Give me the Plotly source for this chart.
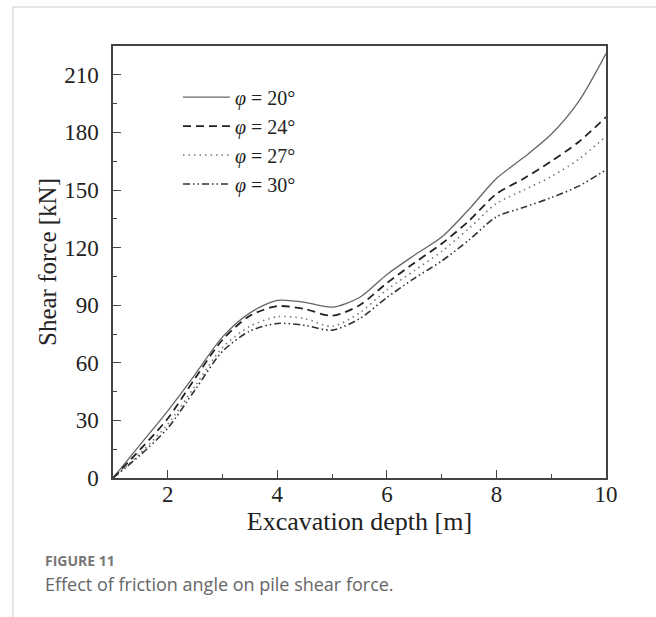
import plotly.graph_objects as go

depth = [1, 1.5, 2, 2.5, 3, 3.5, 4, 4.5, 5, 5.5, 6, 6.5, 7, 7.5, 8, 8.5, 9, 9.5, 10]
shear_20 = [0, 17.5, 35, 54, 73.5, 86, 92.5, 91.5, 89, 94, 106, 116, 125.5, 140, 156, 167, 179, 196, 221]
shear_24 = [0, 15, 31, 52, 72, 84.5, 89.5, 88, 84.5, 90, 101.5, 112, 122, 134, 148, 156, 165, 175, 188]
shear_27 = [0, 13, 28, 48, 68, 79, 84, 83, 79, 86, 98, 108, 118, 130, 143, 150, 157, 166, 178]
shear_30 = [0, 12, 26, 46, 66, 76.5, 80.5, 79.5, 77, 83, 94, 104, 113, 124, 136, 141, 146, 152, 160.5]
labels = ["<i>φ</i> = 20°", "<i>φ</i> = 24°", "<i>φ</i> = 27°", "<i>φ</i> = 30°"]
x_ticks = [2, 4, 6, 8, 10]
y_ticks = [0, 30, 60, 90, 120, 150, 180, 210]

styles = [
    dict(color="#666666", width=1.3, dash="solid"),
    dict(color="#222222", width=1.8, dash="8px,5px"),
    dict(color="#777777", width=1.6, dash="1.5px,4px"),
    dict(color="#333333", width=1.6, dash="7px,3px,1.5px,3px,1.5px,3px"),
]

fig = go.Figure()
for ys, lab, st in zip([shear_20, shear_24, shear_27, shear_30], labels, styles):
    fig.add_trace(go.Scatter(x=depth, y=ys, mode="lines", name=lab,
                             line=dict(shape="spline", smoothing=0.8, **st)))

serif = "Liberation Serif, Times New Roman, serif"
fig.update_layout(
    width=656, height=617,
    margin=dict(l=113, r=50, t=46, b=139),
    paper_bgcolor="white", plot_bgcolor="white",
    font=dict(family=serif, color="#222222"),
    showlegend=True,
    legend=dict(x=(178 - 113) / 493, y=0.927, xanchor="left", yanchor="top",
                font=dict(family=serif, size=20, color="#222222"), itemwidth=47,
                bgcolor="rgba(0,0,0,0)", borderwidth=0),
    xaxis=dict(range=[1, 10], tickvals=x_ticks, ticks="inside", ticklen=8, tickwidth=1.2,
               tickcolor="#444", showline=True, linecolor="#444", linewidth=1.5, mirror=True,
               showgrid=False, zeroline=False, tickfont=dict(family=serif, size=23, color="#222"),
               ticklabelstandoff=-5,
               minor=dict(tickvals=[3, 5, 7, 9], ticks="inside", ticklen=4, tickcolor="#444", tickwidth=1.2),
               title=dict(text="Excavation depth [m]", font=dict(family=serif, size=26, color="#222"), standoff=0)),
    yaxis=dict(range=[0, 225], tickvals=y_ticks, ticks="inside", ticklen=8, tickwidth=1.2,
               tickcolor="#444", showline=True, linecolor="#444", linewidth=1.5, mirror=True,
               showgrid=False, zeroline=False, tickfont=dict(family=serif, size=23, color="#222"),
               ticklabelstandoff=8,
               minor=dict(tickvals=[15, 45, 75, 105, 135, 165, 195], ticks="inside", ticklen=4,
                          tickcolor="#444", tickwidth=1.2),
               title=dict(text="Shear force [kN]", font=dict(family=serif, size=25, color="#222"), standoff=0)),
)

# card border
fig.add_shape(type="rect", xref="paper", yref="paper",
              x0=(13 - 113) / 493, x1=(680 - 113) / 493,
              y0=(478 - 660) / 432, y1=(478 - 7) / 432,
              line=dict(color="#cccccc", width=1), layer="below")

fig.add_annotation(text="<b>FIGURE 11</b>", xref="paper", yref="paper",
                   x=(43 - 113) / 493, y=(478 - 560) / 432, xanchor="left", yanchor="middle",
                   showarrow=False, font=dict(family="Open Sans", size=14, color="#777777"))
fig.add_annotation(text="Effect of friction angle on pile shear force.", xref="paper", yref="paper",
                   x=(43 - 113) / 493, y=(478 - 584) / 432, xanchor="left", yanchor="middle",
                   showarrow=False, font=dict(family="Open Sans", size=18, color="#666666"))

fig.write_html("out.html")
